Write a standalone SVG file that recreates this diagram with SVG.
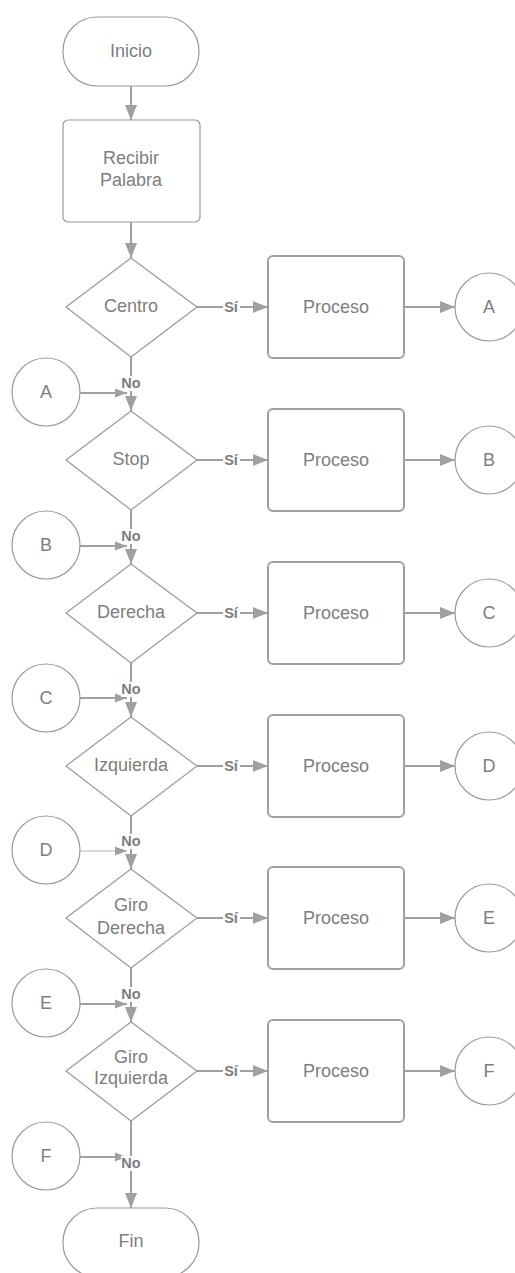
<svg xmlns="http://www.w3.org/2000/svg" width="515" height="1273" viewBox="0 0 515 1273">
  <style>
    .shape { fill: #ffffff; stroke: #9a9a9a; stroke-width: 1.2; stroke-linejoin: round; }
    .proc { fill: #ffffff; stroke: #a0a0a0; stroke-width: 2; }
    .txt { font-family: "Liberation Sans", Arial, sans-serif; font-size: 18px; fill: #7e7e7e; text-anchor: middle; dominant-baseline: central; }
    .lbl { font-family: "Liberation Sans", Arial, sans-serif; font-size: 14.5px; font-weight: bold; fill: #7c7c7c; text-anchor: middle; dominant-baseline: central; }
    .conn { stroke: #a0a0a0; stroke-width: 2; fill: none; }
    .thin { stroke: #b4b4b4; stroke-width: 1; fill: none; }
    .lblbg { fill: #ffffff; }
  </style>
  <defs>
    <marker id="arrow" markerUnits="userSpaceOnUse" markerWidth="16" markerHeight="14" refX="15" refY="7" orient="auto">
      <path d="M0,1 L15,7 L0,13 Z" fill="#a0a0a0"/>
    </marker>
    <marker id="arrowSmall" markerUnits="userSpaceOnUse" markerWidth="13" markerHeight="11" refX="12" refY="5.5" orient="auto">
      <path d="M0,1 L12,5.5 L0,10 Z" fill="#a0a0a0"/>
    </marker>
  </defs>

  <!-- connectors -->
  <g id="connectors">
    <line class="conn" x1="131" y1="86" x2="131" y2="120" marker-end="url(#arrow)"/>
    <line class="conn" x1="131" y1="222" x2="131" y2="258" marker-end="url(#arrow)"/>

    <!-- Centro row (cy 307) -->
    <line class="conn" x1="197" y1="307" x2="268" y2="307" marker-end="url(#arrow)"/>
    <line class="conn" x1="404" y1="307" x2="455" y2="307" marker-end="url(#arrow)"/>
    <line class="conn" x1="131" y1="357" x2="131" y2="411" marker-end="url(#arrow)"/>
    <line class="conn" x1="80" y1="393" x2="127" y2="393" marker-end="url(#arrowSmall)"/>

    <!-- Stop row (cy 460) -->
    <line class="conn" x1="197" y1="460" x2="268" y2="460" marker-end="url(#arrow)"/>
    <line class="conn" x1="404" y1="460" x2="455" y2="460" marker-end="url(#arrow)"/>
    <line class="conn" x1="131" y1="510" x2="131" y2="564" marker-end="url(#arrow)"/>
    <line class="conn" x1="80" y1="546" x2="127" y2="546" marker-end="url(#arrowSmall)"/>

    <!-- Derecha row (cy 613) -->
    <line class="conn" x1="197" y1="613" x2="268" y2="613" marker-end="url(#arrow)"/>
    <line class="conn" x1="404" y1="613" x2="455" y2="613" marker-end="url(#arrow)"/>
    <line class="conn" x1="131" y1="663" x2="131" y2="717" marker-end="url(#arrow)"/>
    <line class="conn" x1="80" y1="698" x2="127" y2="698" marker-end="url(#arrowSmall)"/>

    <!-- Izquierda row (cy 766) -->
    <line class="conn" x1="197" y1="766" x2="268" y2="766" marker-end="url(#arrow)"/>
    <line class="conn" x1="404" y1="766" x2="455" y2="766" marker-end="url(#arrow)"/>
    <line class="conn" x1="131" y1="816" x2="131" y2="869" marker-end="url(#arrow)"/>
    <line class="thin" x1="80" y1="851" x2="127" y2="851" marker-end="url(#arrowSmall)"/>

    <!-- Giro Derecha row (cy 918) -->
    <line class="conn" x1="197" y1="918" x2="268" y2="918" marker-end="url(#arrow)"/>
    <line class="conn" x1="404" y1="918" x2="455" y2="918" marker-end="url(#arrow)"/>
    <line class="conn" x1="131" y1="968" x2="131" y2="1022" marker-end="url(#arrow)"/>
    <line class="conn" x1="80" y1="1004" x2="127" y2="1004" marker-end="url(#arrowSmall)"/>

    <!-- Giro Izquierda row (cy 1071) -->
    <line class="conn" x1="197" y1="1071" x2="268" y2="1071" marker-end="url(#arrow)"/>
    <line class="conn" x1="404" y1="1071" x2="455" y2="1071" marker-end="url(#arrow)"/>
    <line class="conn" x1="131" y1="1121" x2="131" y2="1208" marker-end="url(#arrow)"/>
    <line class="conn" x1="80" y1="1157" x2="127" y2="1157" marker-end="url(#arrowSmall)"/>

    <!-- branch labels -->
    <g>
      <rect class="lblbg" x="223" y="299" width="17" height="16"/><text class="lbl" x="231" y="307">Sí</text>
      <rect class="lblbg" x="223" y="452" width="17" height="16"/><text class="lbl" x="231" y="460">Sí</text>
      <rect class="lblbg" x="223" y="605" width="17" height="16"/><text class="lbl" x="231" y="613">Sí</text>
      <rect class="lblbg" x="223" y="758" width="17" height="16"/><text class="lbl" x="231" y="766">Sí</text>
      <rect class="lblbg" x="223" y="910" width="17" height="16"/><text class="lbl" x="231" y="918">Sí</text>
      <rect class="lblbg" x="223" y="1063" width="17" height="16"/><text class="lbl" x="231" y="1071">Sí</text>

      <rect class="lblbg" x="121" y="376" width="21" height="15"/><text class="lbl" x="131" y="383">No</text>
      <rect class="lblbg" x="121" y="529" width="21" height="15"/><text class="lbl" x="131" y="536">No</text>
      <rect class="lblbg" x="121" y="682" width="21" height="15"/><text class="lbl" x="131" y="689">No</text>
      <rect class="lblbg" x="121" y="834" width="21" height="15"/><text class="lbl" x="131" y="841">No</text>
      <rect class="lblbg" x="121" y="987" width="21" height="15"/><text class="lbl" x="131" y="994">No</text>
      <rect class="lblbg" x="121" y="1156" width="21" height="15"/><text class="lbl" x="131" y="1163">No</text>
    </g>
  </g>

  <!-- terminals and steps -->
  <g id="inicio">
    <rect class="shape" x="63" y="17" width="136" height="69" rx="34" ry="34"/>
    <text class="txt" x="131" y="51">Inicio</text>
  </g>
  <g id="recibir">
    <rect class="shape" x="63" y="120" width="137" height="102" rx="5" ry="5"/>
    <text class="txt" x="131" y="158">Recibir</text>
    <text class="txt" x="131" y="180">Palabra</text>
  </g>

  <!-- decisions -->
  <g id="dec-centro">
    <path class="shape" d="M131,258 L197,307 L131,357 L66,307 Z"/>
    <text class="txt" x="131" y="306">Centro</text>
  </g>
  <g id="dec-stop">
    <path class="shape" d="M131,411 L197,460 L131,510 L66,460 Z"/>
    <text class="txt" x="131" y="459">Stop</text>
  </g>
  <g id="dec-derecha">
    <path class="shape" d="M131,564 L197,613 L131,663 L66,613 Z"/>
    <text class="txt" x="131" y="612">Derecha</text>
  </g>
  <g id="dec-izquierda">
    <path class="shape" d="M131,717 L197,766 L131,816 L66,766 Z"/>
    <text class="txt" x="131" y="765">Izquierda</text>
  </g>
  <g id="dec-giro-derecha">
    <path class="shape" d="M131,869 L197,918 L131,968 L66,918 Z"/>
    <text class="txt" x="131" y="905">Giro</text>
    <text class="txt" x="131" y="928">Derecha</text>
  </g>
  <g id="dec-giro-izquierda">
    <path class="shape" d="M131,1022 L197,1071 L131,1121 L66,1071 Z"/>
    <text class="txt" x="131" y="1057">Giro</text>
    <text class="txt" x="131" y="1078">Izquierda</text>
  </g>

  <!-- process boxes -->
  <g id="proc-1"><rect class="proc" x="268" y="256" width="136" height="102" rx="5"/><text class="txt" x="336" y="307">Proceso</text></g>
  <g id="proc-2"><rect class="proc" x="268" y="409" width="136" height="102" rx="5"/><text class="txt" x="336" y="460">Proceso</text></g>
  <g id="proc-3"><rect class="proc" x="268" y="562" width="136" height="102" rx="5"/><text class="txt" x="336" y="613">Proceso</text></g>
  <g id="proc-4"><rect class="proc" x="268" y="715" width="136" height="102" rx="5"/><text class="txt" x="336" y="766">Proceso</text></g>
  <g id="proc-5"><rect class="proc" x="268" y="867" width="136" height="102" rx="5"/><text class="txt" x="336" y="918">Proceso</text></g>
  <g id="proc-6"><rect class="proc" x="268" y="1020" width="136" height="102" rx="5"/><text class="txt" x="336" y="1071">Proceso</text></g>

  <!-- outgoing connectors (right) -->
  <g id="out-a"><circle class="shape" cx="489" cy="307" r="34"/><text class="txt" x="489" y="307">A</text></g>
  <g id="out-b"><circle class="shape" cx="489" cy="460" r="34"/><text class="txt" x="489" y="460">B</text></g>
  <g id="out-c"><circle class="shape" cx="489" cy="613" r="34"/><text class="txt" x="489" y="613">C</text></g>
  <g id="out-d"><circle class="shape" cx="489" cy="766" r="34"/><text class="txt" x="489" y="766">D</text></g>
  <g id="out-e"><circle class="shape" cx="489" cy="918" r="34"/><text class="txt" x="489" y="918">E</text></g>
  <g id="out-f"><circle class="shape" cx="489" cy="1071" r="34"/><text class="txt" x="489" y="1071">F</text></g>

  <!-- incoming connectors (left) -->
  <g id="in-a"><circle class="shape" cx="46" cy="392" r="34"/><text class="txt" x="46" y="392">A</text></g>
  <g id="in-b"><circle class="shape" cx="46" cy="545" r="34"/><text class="txt" x="46" y="545">B</text></g>
  <g id="in-c"><circle class="shape" cx="46" cy="698" r="34"/><text class="txt" x="46" y="698">C</text></g>
  <g id="in-d"><circle class="shape" cx="46" cy="850" r="34"/><text class="txt" x="46" y="850">D</text></g>
  <g id="in-e"><circle class="shape" cx="46" cy="1003" r="34"/><text class="txt" x="46" y="1003">E</text></g>
  <g id="in-f"><circle class="shape" cx="46" cy="1156" r="34"/><text class="txt" x="46" y="1156">F</text></g>

  <g id="fin">
    <rect class="shape" x="63" y="1208" width="136" height="69" rx="34" ry="34"/>
    <text class="txt" x="131" y="1241">Fin</text>
  </g>
</svg>
